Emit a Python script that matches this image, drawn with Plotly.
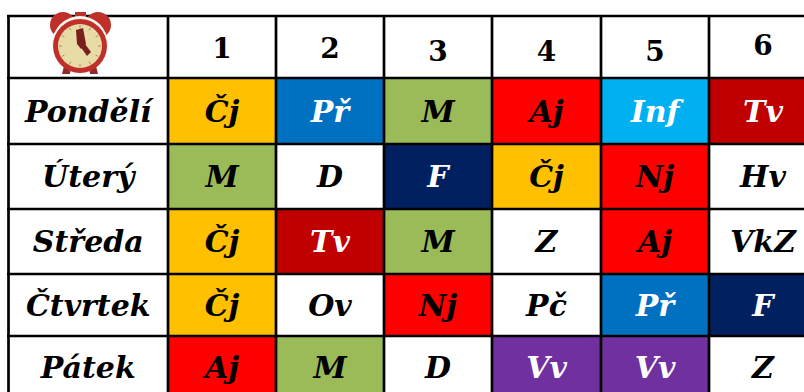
import math
import plotly.graph_objects as go

days = ["Pondělí", "Úterý", "Středa", "Čtvrtek", "Pátek"]
periods = ["1", "2", "3", "4", "5", "6"]
lessons = [
    ["Čj", "Př", "M", "Aj", "Inf", "Tv"],
    ["M", "D", "F", "Čj", "Nj", "Hv"],
    ["Čj", "Tv", "M", "Z", "Aj", "VkZ"],
    ["Čj", "Ov", "Nj", "Pč", "Př", "F"],
    ["Aj", "M", "D", "Vv", "Vv", "Z"],
]

subject_colors = {
    "Čj": "#ffc000", "Př": "#0070c0", "M": "#9bbb59", "Aj": "#ff0000",
    "Inf": "#00b0f0", "Tv": "#c00000", "F": "#002060", "Nj": "#ff0000",
    "Vv": "#7030a0",
}
white_text = {"Př", "Inf", "Tv", "F", "Vv"}

# grid edges, one axis unit is one pixel
col_edges = [8.5, 168, 276, 384, 492, 601, 709, 820]
row_edges = [16, 78, 144, 209, 274, 336, 400]
FONT = "DejaVu Serif"

# one colour per subject, white for the rest
names = ["white"] + list(subject_colors)
colors = ["#ffffff"] + list(subject_colors.values())
n = len(names)
colorscale = []
for i, c in enumerate(colors):
    colorscale.append([i / n, c])
    colorscale.append([(i + 1) / n, c])

z = [[0] * 7]
for row in lessons:
    z.append([0] + [names.index(s) if s in names else 0 for s in row])

fig = go.Figure()
fig.add_trace(go.Heatmap(x=col_edges, y=row_edges, z=z, zmin=0, zmax=n, colorscale=colorscale,
                         showscale=False, hoverinfo="skip"))

col_mid = [(col_edges[i] + col_edges[i + 1]) / 2 for i in range(6)] + [763]
row_mid = [(row_edges[i] + row_edges[i + 1]) / 2 for i in range(5)] + [367]

# period numbers, old style digits sit at different heights in the reference
digit_shift = [4, 4, 7, 7, 7, 1]
fig.add_trace(go.Scatter(x=col_mid[1:], y=[row_mid[0] + d for d in digit_shift], mode="text", text=periods,
                         textfont=dict(family=FONT, size=28, color="black", weight="bold"),
                         hoverinfo="skip"))
# day names
fig.add_trace(go.Scatter(x=[col_mid[0]] * 5, y=[r + 3 for r in row_mid[1:]], mode="text", text=days,
                         textfont=dict(family=FONT, size=30, color="black", weight="bold", style="italic"),
                         hoverinfo="skip"))
# lessons
xs, ys, texts, text_colors = [], [], [], []
for r, row in enumerate(lessons):
    for c, s in enumerate(row):
        xs.append(col_mid[c + 1])
        ys.append(row_mid[r + 1] + 3)
        texts.append(s)
        text_colors.append("white" if s in white_text else "black")
fig.add_trace(go.Scatter(x=xs, y=ys, mode="text", text=texts,
                         textfont=dict(family=FONT, size=30, color=text_colors, weight="bold", style="italic"),
                         hoverinfo="skip"))

# grid lines
for x in col_edges[:-1]:
    fig.add_shape(type="line", x0=x, x1=x, y0=15, y1=400, line=dict(color="black", width=2.7))
for y in row_edges[:-1]:
    fig.add_shape(type="line", x0=7, x1=820, y0=y, y1=y, line=dict(color="black", width=2.7))

# alarm clock icon
def circle(cx, cy, r, fill):
    fig.add_shape(type="circle", x0=cx - r, x1=cx + r, y0=cy - r, y1=cy + r,
                  fillcolor=fill, line_width=0, layer="above")

def poly(path, fill):
    fig.add_shape(type="path", path=path, fillcolor=fill, line_width=0, layer="above")

poly("M 65 62 L 71 65 L 70 74 L 62 74 Z", "#8e2a2a")
poly("M 89 65 L 95 62 L 98 74 L 90 74 Z", "#8e2a2a")
circle(63, 25, 13, "#c0302b")
circle(98, 25, 13, "#c0302b")
poly("M 75 12 L 86 12 L 86 22 L 75 22 Z", "#c0302b")
circle(80, 44, 28, "#f4f4f0")
circle(80, 46, 27, "#c0302b")
circle(80, 46, 22, "#e9dba6")
poly("M 80 24 A 22 22 0 0 1 80 68 Z", "#d6c895")
for k in range(12):
    a = k * math.pi / 6
    fig.add_shape(type="line", x0=80 + 18 * math.sin(a), x1=80 + 21 * math.sin(a),
                  y0=46 - 18 * math.cos(a), y1=46 - 21 * math.cos(a),
                  line=dict(color="#b08a6a", width=1), layer="above")
poly("M 76 30 L 83 28 L 86 44 L 81 49 L 77 44 Z", "#7a1f1f")
poly("M 80 46 L 85 44 L 91 52 L 87 56 Z", "#7a1f1f")

fig.update_xaxes(range=[0, 804], visible=False, fixedrange=True)
fig.update_yaxes(range=[392, 0], visible=False, fixedrange=True)
fig.update_layout(width=804, height=392, margin=dict(l=0, r=0, t=0, b=0), showlegend=False,
                  paper_bgcolor="white", plot_bgcolor="white")

fig.write_html("out.html", config={"displayModeBar": False},
               post_script="document.body.style.margin='0';")
